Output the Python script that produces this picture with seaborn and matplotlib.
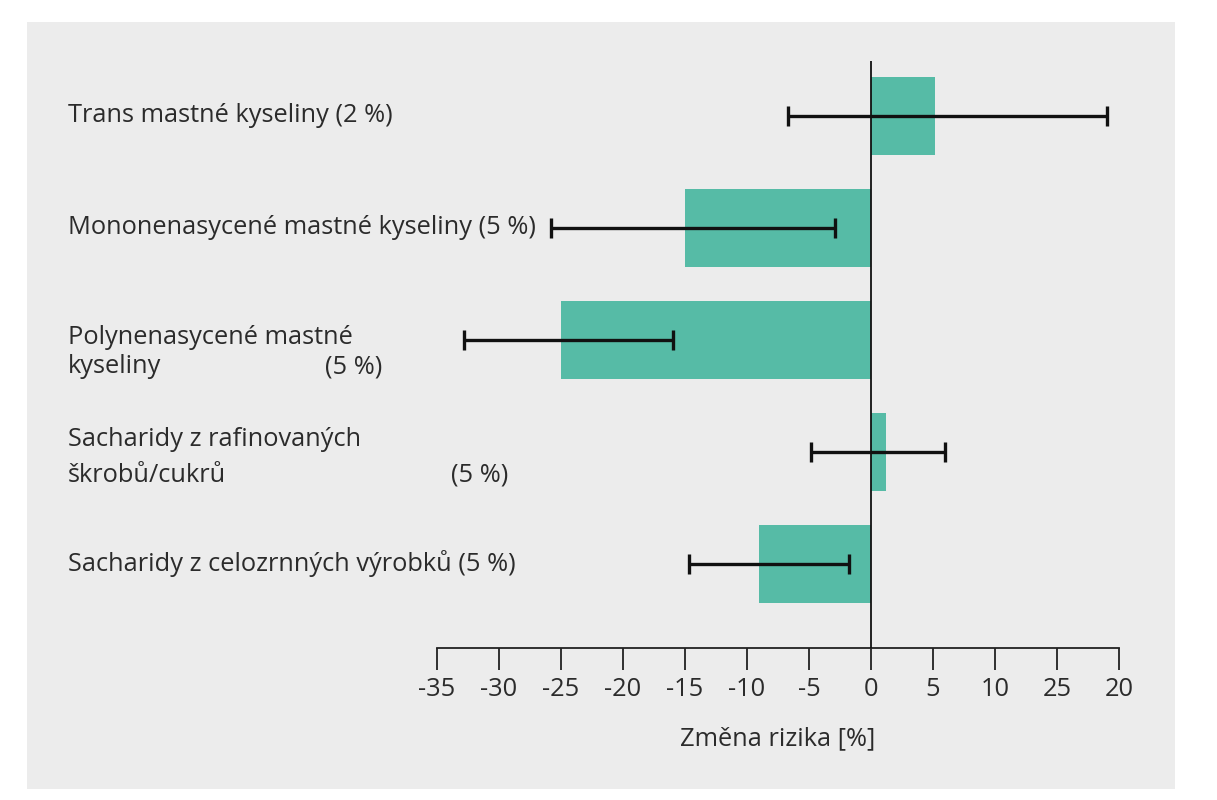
import matplotlib
matplotlib.use("Agg")
import matplotlib.pyplot as plt
import seaborn as sns
import pandas as pd
from matplotlib import font_manager
from matplotlib.patches import Rectangle
import matplotlib.transforms as mtransforms

categories = [
    "Trans mastné kyseliny (2 %)",
    "Mononenasycené mastné kyseliny (5 %)",
    "Polynenasycené mastné kyseliny (5 %)",
    "Sacharidy z rafinovaných škrobů/cukrů (5 %)",
    "Sacharidy z celozrnných výrobků (5 %)",
]
values = [5.2, -15.0, -25.0, 1.2, -9.0]
ci_low = [-6.7, -25.8, -32.8, -4.8, -14.7]
ci_high = [19.0, -2.9, -16.0, 6.0, -1.8]
tick_values = [-35, -30, -25, -20, -15, -10, -5, 0, 5, 10, 15, 20]
tick_labels = ["-35", "-30", "-25", "-20", "-15", "-10", "-5", "0", "5", "10", "25", "20"]
x_label = "Změna rizika [%]"

# label text lines as drawn: (line1, line2, suffix)
label_lines = [
    ("Trans mastné kyseliny (2 %)", None, None),
    ("Mononenasycené mastné kyseliny (5 %)", None, None),
    ("Polynenasycené mastné", "kyseliny", "(5 %)"),
    ("Sacharidy z rafinovaných", "škrobů/cukrů", "(5 %)"),
    ("Sacharidy z celozrnných výrobků (5 %)", None, None),
]

names = {f.name for f in font_manager.fontManager.ttflist}
font = "DejaVu Sans"
for cand in ["Liberation Sans Narrow", "Open Sans", "Noto Sans"]:
    if cand in names:
        font = cand
        break

sns.set_theme(style="white")
plt.rcParams["font.family"] = [font, "DejaVu Sans"]

FS = 18.3
TXT = "#2b2b2b"
W, H = 1217, 800
fig = plt.figure(figsize=(W / 100, H / 100), dpi=100, facecolor="white")
fig.patches.append(Rectangle((27 / W, 1 - 789 / H), (1175 - 27) / W, (789 - 22) / H,
                             transform=fig.transFigure, facecolor="#ececec",
                             edgecolor="none", zorder=-10))

ax = fig.add_axes([437 / W, 1 - 648 / H, (1119 - 437) / W, (648 - 61) / H])
ax.set_zorder(1)
ax.set_facecolor("none")

df = pd.DataFrame({"cat": categories, "val": values})
sns.barplot(data=df, x="val", y="cat", orient="h", color="#56bba6", saturation=1,
            width=0.69, linewidth=0, ax=ax, zorder=2)

ypos = list(range(len(categories)))
xerr = [[v - lo for v, lo in zip(values, ci_low)], [hi - v for v, hi in zip(values, ci_high)]]
ax.errorbar(values, ypos, xerr=xerr, fmt="none", ecolor="#111111", elinewidth=2.4,
            capsize=7, capthick=2.4, zorder=4)

ax.axvline(0, color="#111111", lw=1.3, zorder=3)

ax.set_xlim(-35, 20)
ax.set_ylim(4.75, -0.49)
for s in ["top", "right", "left"]:
    ax.spines[s].set_visible(False)
ax.spines["bottom"].set_color("#222222")
ax.spines["bottom"].set_linewidth(1.3)
ax.set_yticks([])
ax.set_ylabel("")
ax.set_xticks(tick_values)
ax.set_xticklabels(tick_labels)
ax.tick_params(axis="x", direction="out", length=16, width=1.3, color="#222222",
               pad=5, labelsize=FS, labelcolor=TXT, bottom=True)
ax.set_xlabel(x_label, fontsize=FS, color=TXT, labelpad=17)

trans = mtransforms.blended_transform_factory(fig.transFigure, ax.transData)
lx = 68 / W
for i, (l1, l2, suf) in enumerate(label_lines):
    if l2 is None:
        ax.text(lx, i, l1, transform=trans, ha="left", va="center", fontsize=FS,
                color=TXT, clip_on=False)
    else:
        if i == 2:
            d1, d2, sx = -0.02, 0.24, 325 / W
        else:
            d1, d2, sx = -0.11, 0.21, 451 / W
        for xx, yy, tt in [(lx, i + d1, l1), (lx, i + d2, l2), (sx, i + d2, suf)]:
            ax.text(xx, yy, tt, transform=trans, ha="left", va="center", fontsize=FS,
                    color=TXT, clip_on=False)

fig.savefig("out.png", dpi=100, facecolor="white")
